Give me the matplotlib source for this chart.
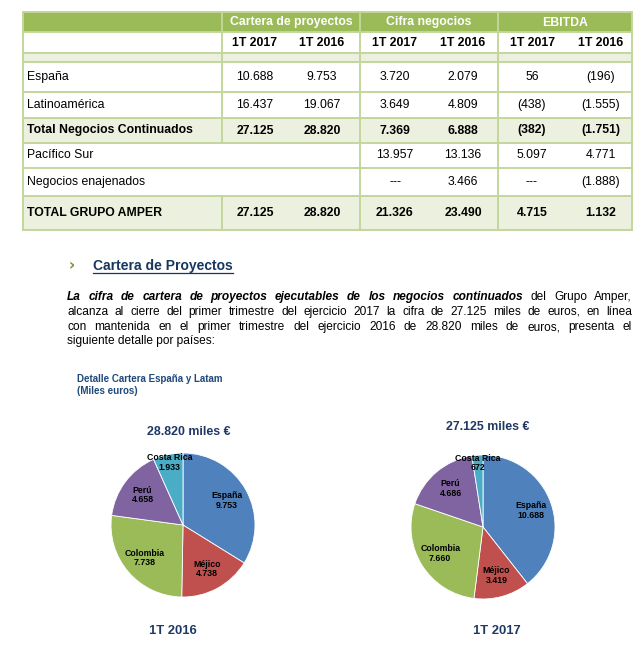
import numpy as np
import matplotlib
matplotlib.use("Agg")
import matplotlib.pyplot as plt
from matplotlib.patches import Rectangle

plt.rcParams['font.family'] = ['Liberation Sans', 'DejaVu Sans']

# ---- table data ----
row_labels = ["España", "Latinoamérica", "Total Negocios Continuados",
              "Pacífico Sur", "Negocios enajenados", "TOTAL GRUPO AMPER"]
row_bold = [False, False, True, False, False, True]
group_names = ["Cartera de proyectos", "Cifra negocios", "EBITDA"]
period_names = ["1T 2017", "1T 2016"]
cartera_2017 = ["10.688", "16.437", "27.125", "", "", "27.125"]
cartera_2016 = ["9.753", "19.067", "28.820", "", "", "28.820"]
cifra_2017 = ["3.720", "3.649", "7.369", "13.957", "---", "21.326"]
cifra_2016 = ["2.079", "4.809", "6.888", "13.136", "3.466", "23.490"]
ebitda_2017 = ["56", "(438)", "(382)", "5.097", "---", "4.715"]
ebitda_2016 = ["(196)", "(1.555)", "(1.751)", "4.771", "(1.888)", "1.132"]

# ---- pie data ----
paises = ["España", "Méjico", "Colombia", "Perú", "Costa Rica"]
cartera_1t2016 = [9753, 4738, 7738, 4658, 1933]
cartera_1t2017 = [10688, 3419, 7660, 4686, 672]
pie_colors = ["#4f81bd", "#c0504d", "#9bbb59", "#8064a2", "#4bacc6"]

GREEN = "#9bbb59"
LIGHT = "#ebf1de"
BORDER = "#c3d69b"
NAVY = "#1f3864"

fig = plt.figure(figsize=(6.35, 6.5), dpi=100)
ax = fig.add_axes([0, 0, 1, 1])
ax.set_xlim(0, 635)
ax.set_ylim(650, 0)
ax.axis("off")

# ---------------- table ----------------
x_cols = [23, 222, 360, 498, 632]
sub_x = [255, 322, 395, 463, 532, 601]
rows_y = [62, 92, 118, 143, 168, 196, 230]
fs = 8.8

ax.add_patch(Rectangle((23, 12), 609, 20, color=GREEN, lw=0))
ax.add_patch(Rectangle((23, 53), 609, 9, color=LIGHT, lw=0))
for i, b in enumerate(row_bold):
    if b:
        ax.add_patch(Rectangle((23, rows_y[i]), 609, rows_y[i + 1] - rows_y[i],
                               color=LIGHT, lw=0))

for g, name in enumerate(group_names):
    xc = (x_cols[g + 1] + x_cols[g + 2]) / 2
    ax.text(xc, 22.5, name, color="white", fontsize=fs, fontweight="bold",
            ha="center", va="center")
for k in range(6):
    ax.text(sub_x[k], 43, period_names[k % 2], fontsize=fs, fontweight="bold",
            ha="center", va="center")

columns = [cartera_2017, cartera_2016, cifra_2017, cifra_2016, ebitda_2017, ebitda_2016]
for i, lab in enumerate(row_labels):
    yc = (rows_y[i] + rows_y[i + 1]) / 2
    w = "bold" if row_bold[i] else "normal"
    ax.text(27, yc, lab, fontsize=fs, fontweight=w, ha="left", va="center")
    for k, col in enumerate(columns):
        ax.text(sub_x[k], yc, col[i], fontsize=fs, fontweight=w,
                ha="center", va="center")

# borders
hlines = [12, 32, 53, 62] + rows_y[1:]
for y in hlines:
    ax.plot([23, 632], [y, y], color=BORDER, lw=1.4)
for i, x in enumerate(x_cols):
    if i == 1:
        # Pacífico / enajenados label cells span the cartera columns
        ax.plot([x, x], [12, 143], color=BORDER, lw=1.4)
        ax.plot([x, x], [196, 230], color=BORDER, lw=1.4)
    else:
        ax.plot([x, x], [12, 230], color=BORDER, lw=1.4)

# ---------------- heading & paragraph ----------------
fig.canvas.draw()
renderer = fig.canvas.get_renderer()


def width_of(t):
    return t.get_window_extent(renderer).width


ax.text(72, 266, "›", color="#76923c", fontsize=11, fontweight="bold",
        ha="center", va="center", family=["DejaVu Sans"])
h = ax.text(93, 266, "Cartera de Proyectos", color="#17375e", fontsize=10,
            fontweight="bold", ha="left", va="center")
ax.plot([93, 93 + width_of(h)], [273, 273], color="#17375e", lw=0.9)

pfs = 8.6
bi = ("bold", "italic")
nn = ("normal", "normal")
lines = [
    [(w, bi) for w in "La cifra de cartera de proyectos ejecutables de los negocios continuados".split()]
    + [(w, nn) for w in "del Grupo Amper,".split()],
    [(w, nn) for w in "alcanza al cierre del primer trimestre del ejercicio 2017 la cifra de 27.125 miles de euros, en línea".split()],
    [(w, nn) for w in "con mantenida en el primer trimestre del ejercicio 2016 de 28.820 miles de euros, presenta el".split()],
]
last_line = "siguiente detalle por países:"
line_y = [297, 312, 327, 341]
x0, x1 = 67, 632
for li, words in enumerate(lines):
    texts = [ax.text(0, line_y[li], w, fontsize=pfs, fontweight=s[0], fontstyle=s[1],
                     ha="left", va="center") for w, s in words]
    widths = [width_of(t) for t in texts]
    gap = (x1 - x0 - sum(widths)) / (len(texts) - 1)
    x = x0
    for t, wd in zip(texts, widths):
        t.set_x(x)
        x += wd + gap
ax.text(x0, line_y[3], last_line, fontsize=pfs, ha="left", va="center")

# ---------------- pie section ----------------
ax.text(77, 385.5, "Detalle Cartera España y Latam\n(Miles euros)", color="#1f497d",
        fontsize=7, fontweight="bold", ha="left", va="center", linespacing=1.25)

def fmt(v):
    return f"{v:,}".replace(",", ".")

pies = [(cartera_1t2016, 183, 525, 189, 432, 173, "1T 2016"),
        (cartera_1t2017, 483, 527, 488, 427, 497, "1T 2017")]
R = 72
for vals, cx, cy, tx, ty, bx, blabel in pies:
    total = sum(vals)
    ax.text(tx, ty, f"{fmt(total)} miles €", color=NAVY, fontsize=8.9,
            fontweight="bold", ha="center", va="center")
    ax.text(bx, 631, blabel, color=NAVY, fontsize=9.4, fontweight="bold",
            ha="center", va="center")
    pax = fig.add_axes([(cx - R) / 635, (650 - cy - R) / 650, 2 * R / 635, 2 * R / 650])
    pax.pie(vals, colors=pie_colors, startangle=90, counterclock=False, radius=1,
            wedgeprops=dict(edgecolor="white", linewidth=0.6))
    pax.set_xlim(-1, 1)
    pax.set_ylim(-1, 1)
    pax.set_aspect("equal")
    pax.axis("off")
    cum = np.cumsum([0] + vals[:-1])
    for name, v, c in zip(paises, vals, cum):
        theta = np.deg2rad(90 - 360 * (c + v / 2) / total)
        r = 0.89 if name == "Costa Rica" else 0.7
        pax.text(r * np.cos(theta), r * np.sin(theta), f"{name}\n{fmt(v)}",
                 fontsize=6.3, fontweight="bold", ha="center", va="center",
                 linespacing=1.05, clip_on=False)

fig.savefig("out.png", dpi=100)
